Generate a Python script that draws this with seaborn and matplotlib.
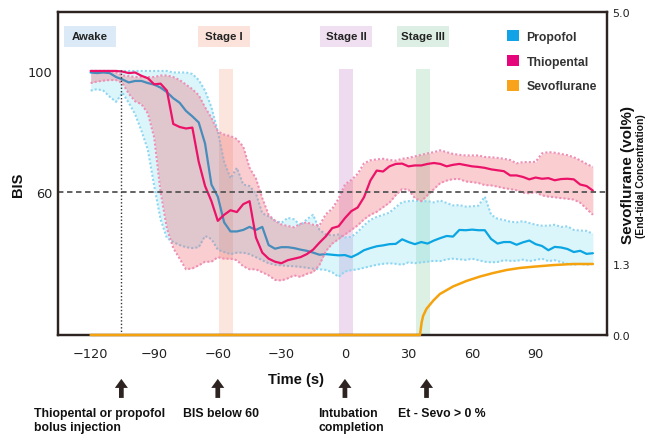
import matplotlib

matplotlib.use("Agg")
import matplotlib.pyplot as plt
import pandas as pd
import seaborn as sns
from matplotlib.patches import Patch, Rectangle

# time axis (s), read every 3 s from the figure
time_s = [
    -120, -117, -114, -111, -108, -105, -102, -99, -96, -93,
    -90, -87, -84, -81, -78, -75, -72, -69, -66, -63,
    -60, -57, -54, -51, -48, -45, -42, -39, -36, -33,
    -30, -27, -24, -21, -18, -15, -12, -9, -6, -3,
    0, 3, 6, 9, 12, 15, 18, 21, 24, 27,
    30, 33, 36, 39, 42, 45, 48, 51, 54, 57,
    60, 63, 66, 69, 72, 75, 78, 81, 84, 87,
    90, 93, 96, 99, 102, 105, 108, 111, 114, 117,
]

propofol_mean = [
    99.5, 99.3, 99.5, 99.3, 98.0, 97.2, 96.2, 96.7, 96.7, 96.0,
    95.5, 94.5, 93.0, 91.0, 89.5, 86.8, 85.0, 83.0, 76.0, 62.5,
    58.5, 50.0, 47.0, 47.0, 47.5, 48.5, 47.5, 48.5, 42.5, 41.3,
    41.8, 41.8, 41.5, 41.0, 40.6, 40.0, 39.3, 39.5, 39.3, 39.1,
    39.2, 38.5, 39.5, 40.8, 41.5, 42.1, 42.4, 42.8, 42.9, 44.4,
    43.5, 42.8, 43.5, 43.0, 44.0, 44.8, 45.5, 45.3, 47.5, 47.4,
    47.6, 47.4, 47.4, 44.5, 43.0, 43.5, 43.5, 42.6, 43.4, 44.0,
    42.8, 42.2, 40.8, 41.9, 41.7, 41.2, 40.2, 40.6, 39.6, 39.8,
]
propofol_upper = [
    100, 100, 100, 100, 100, 100, 100, 100, 100, 100,
    100, 100, 100, 99.5, 99.5, 99.5, 99.0, 97.0, 93.5, 88.0,
    80.0, 70.0, 64.5, 68.0, 62.5, 62.0, 59.5, 53.0, 52.0, 50.6,
    49.8, 51.5, 51.0, 49.0, 51.0, 52.5, 47.5, 46.0, 45.7, 46.0,
    45.0, 45.2, 46.8, 49.0, 50.8, 51.8, 52.5, 53.2, 55.0, 56.7,
    57.0, 57.2, 57.0, 57.0, 56.6, 57.2, 56.4, 55.6, 55.7, 55.2,
    55.3, 55.5, 58.5, 52.5, 51.2, 50.8, 50.2, 50.0, 50.4, 49.8,
    49.2, 48.9, 48.9, 49.2, 48.5, 48.7, 47.5, 47.3, 47.2, 46.2,
]
propofol_lower = [
    93.5, 94.0, 93.5, 91.5, 89.8, 92.8, 89.5, 85.7, 80.2, 74.0,
    62.0, 51.0, 44.8, 43.5, 42.5, 41.8, 41.5, 41.8, 45.5, 44.5,
    41.0, 40.2, 39.5, 40.0, 40.0, 39.5, 38.5, 37.5, 36.5, 36.0,
    35.8, 35.6, 35.5, 35.3, 35.0, 34.7, 34.5, 34.3, 33.5, 32.0,
    33.8, 34.2, 34.5, 35.0, 35.5, 36.0, 36.3, 36.5, 36.3, 36.0,
    36.8, 36.5, 36.8, 37.0, 37.3, 37.2, 37.8, 38.0, 37.8, 37.6,
    38.0, 37.5, 37.0, 36.8, 36.9, 37.5, 37.3, 37.3, 37.7, 37.2,
    37.6, 38.0, 37.2, 37.5, 36.9, 36.3, 36.0, 36.3, 36.0, 36.3,
]

thiopental_mean = [
    100, 100, 100, 100, 100, 99.8, 99.3, 99.5, 98.4, 97.6,
    95.6, 95.8, 93.5, 82.5, 81.5, 81.0, 81.3, 70.0, 62.0, 57.0,
    50.5, 52.5, 54.0, 53.4, 56.0, 57.0, 45.0, 40.0, 38.0, 37.0,
    36.5, 37.5, 38.0, 38.5, 39.5, 41.0, 43.3, 45.4, 48.1, 48.7,
    51.4, 53.7, 54.9, 58.3, 63.8, 67.1, 66.8, 68.5, 69.3, 69.4,
    68.5, 68.8, 68.8, 69.3, 69.6, 69.3, 68.5, 69.0, 69.3, 68.9,
    68.5, 68.3, 68.0, 67.5, 67.2, 66.9, 65.5, 65.5, 65.0, 64.2,
    64.8, 64.4, 64.6, 63.9, 64.3, 64.4, 64.2, 62.5, 62.0, 60.5,
]
thiopental_upper = [
    100, 100, 100, 100, 99.5, 98.5, 98.3, 98.0, 98.0, 98.0,
    98.0, 98.5, 98.5, 98.0, 97.0, 95.5, 94.0, 92.0, 88.0, 84.5,
    80.0, 79.0, 78.5, 77.5, 75.0, 68.0, 64.5, 58.0, 52.5, 50.5,
    49.3, 48.8, 48.4, 49.5, 50.0, 49.2, 49.0, 52.7, 54.5, 57.8,
    62.5, 64.0, 66.0, 69.5, 70.5, 70.8, 71.0, 70.6, 70.4, 71.0,
    71.3, 71.8, 72.3, 72.8, 73.2, 73.8, 73.2, 72.6, 72.3, 72.1,
    72.1, 72.1, 71.6, 71.5, 71.3, 71.0, 70.6, 69.5, 69.9, 69.9,
    70.0, 72.8, 73.2, 73.0, 72.6, 72.2, 71.5, 70.5, 69.3, 68.3,
]
thiopental_lower = [
    96.0, 96.5, 96.8, 97.0, 97.0, 96.0, 92.5, 90.0, 89.0, 86.0,
    78.0, 60.0, 48.0, 41.5, 38.0, 34.5, 34.8, 35.8, 37.0, 37.0,
    38.5, 38.0, 38.0, 37.5, 35.5, 34.5, 34.5, 33.5, 32.5, 31.0,
    30.8, 31.5, 32.5, 32.0, 33.0, 33.6, 36.0, 40.5, 43.0, 44.5,
    46.0, 47.5, 49.0, 51.0, 52.5, 53.5, 55.0, 56.5, 59.0, 61.0,
    60.8, 58.0, 57.0, 59.0, 61.0, 63.0, 63.8, 64.3, 64.3, 63.5,
    63.3, 63.0, 62.3, 62.2, 61.8, 61.3, 61.0, 60.6, 59.8, 59.6,
    60.0, 58.9, 58.5, 58.3, 58.0, 57.8, 57.5, 56.5, 54.5, 52.5,
]

# end-tidal sevoflurane (vol%), right axis
sevo_time = [-120, 35.4, 36.2, 36.9, 38.5, 41.7, 44.8, 51.1, 57.4, 63.7,
             70.0, 76.3, 82.5, 88.8, 98.3, 107.7, 117.0]
sevo_vol = [0.0, 0.0, 0.23, 0.35, 0.48, 0.63, 0.75, 0.89, 0.99, 1.07,
            1.135, 1.19, 1.227, 1.25, 1.28, 1.30, 1.30]

x_ticks = [-120, -90, -60, -30, 0, 30, 60, 90]
bis_ticks = [60, 100]

stage_names = ["Awake", "Stage I", "Stage II", "Stage III"]
stage_label_x = [-120.5, -57.0, 0.5, 37.0]
stage_box_colors = ["#dbeaf6", "#fbe2da", "#efdff0", "#ddefe5"]
stage_spans = [(-59.2, -52.6), (-2.8, 3.6), (33.6, 40.0)]
stage_band_colors = ["#f4a990", "#c88ad0", "#8cd0a8"]

event_times = [-105.5, -60.0, 0.0, 38.5]
event_labels = [
    "Thiopental or propofol\nbolus injection",
    "BIS below 60",
    "Intubation\ncompletion",
    "Et - Sevo > 0 %",
]
event_text_x = [-146.7, -76.4, -12.7, 25.0]

PROPOFOL = "#0aa5e2"
THIO = "#eb1268"
SEVO = "#f5a20f"
DARK = "#2d2422"
TEXT_FONT = "Liberation Sans"

sns.set_theme(style="white")
plt.rcParams["font.family"] = ["DejaVu Sans"]

df = pd.DataFrame({
    "time": time_s,
    "propofol": propofol_mean,
    "thiopental": thiopental_mean,
})

fig = plt.figure(figsize=(6.48, 4.35), dpi=100)
ax = fig.add_axes([0.0895, 0.2276, 0.847, 0.742])
ax.set_xlim(-135.4, 123.6)
ax.set_ylim(12.8, 119.4)

# stage bands
for (x0, x1), color in zip(stage_spans, stage_band_colors):
    ax.fill_between([x0, x1], 12.8, 100.7, color=color, alpha=0.3,
                    linewidth=0, zorder=1)

dotted = (0, (1, 1))

# propofol band + mean
ax.fill_between(time_s, propofol_lower, propofol_upper, color="#4fd3ee",
                alpha=0.2, linewidth=0, zorder=2)
for edge in (propofol_upper, propofol_lower):
    ax.plot(time_s, edge, color="#8fd6f2", lw=1.5, ls=dotted, zorder=2.1)
sns.lineplot(data=df, x="time", y="propofol", color=PROPOFOL, lw=1.6,
             ax=ax, zorder=2.2)

# thiopental band + mean
ax.fill_between(time_s, thiopental_lower, thiopental_upper, color="#ee4a55",
                alpha=0.27, linewidth=0, zorder=2.3)
for edge in (thiopental_upper, thiopental_lower):
    ax.plot(time_s, edge, color="#ef8fb5", lw=1.5, ls=dotted, zorder=2.4)
sns.lineplot(data=df, x="time", y="thiopental", color=THIO, lw=1.6,
             ax=ax, zorder=2.5)

# reference lines
ax.axhline(60, color="#555555", lw=1.3, ls=(0, (3, 2)), zorder=2.6)
ax.vlines(event_times[0], 12.8, 100.3, color="#333333", lw=1.0,
          ls=(0, (1, 1.5)), zorder=2.6)

# stage label boxes
box_w, box_h, box_y = 24.5, 6.9, 111.4
for name, cx, color in zip(stage_names, stage_label_x, stage_box_colors):
    ax.add_patch(Rectangle((cx - box_w / 2, box_y - box_h / 2), box_w, box_h,
                           facecolor=color, edgecolor="none", zorder=3))
    ax.text(cx, box_y, name, ha="center", va="center", fontsize=8.2,
            fontweight="bold", family=TEXT_FONT, color="#222222", zorder=4)

ax.set_xticks(x_ticks)
ax.set_xticklabels([f"\u2212{abs(v)}" if v < 0 else str(v) for v in x_ticks])
ax.set_yticks(bis_ticks)
ax.tick_params(axis="x", length=0, pad=9, labelsize=9.3, colors="#222222")
ax.tick_params(axis="y", length=0, pad=4, labelsize=9.3, colors="#222222")
ax.set_xlabel("")
ax.set_ylabel("")
for spine in ax.spines.values():
    spine.set_color(DARK)
    spine.set_linewidth(1.6)

ax.text(0.4335, -0.136, "Time (s)", transform=ax.transAxes, ha="center",
        va="center", fontsize=10.5, fontweight="bold", family=TEXT_FONT,
        color="#111111")
ax.text(-0.0729, 0.467, "BIS", transform=ax.transAxes, ha="center",
        va="center", rotation=90, fontsize=10.5, fontweight="bold",
        family=TEXT_FONT, color="#111111")
ax.text(1.038, 0.5, "Sevoflurane (vol%)", transform=ax.transAxes,
        ha="center", va="center", rotation=90, fontsize=11,
        fontweight="bold", family=TEXT_FONT, color="#111111")
ax.text(1.063, 0.495, "(End-tidal Concentration)", transform=ax.transAxes,
        ha="center", va="center", rotation=90, fontsize=7.4,
        fontweight="bold", family=TEXT_FONT, color="#111111")

# sevoflurane on the right axis
ax2 = ax.twinx()
ax2.set_ylim(0, 5.91)
ax2.plot(sevo_time, sevo_vol, color=SEVO, lw=1.8, clip_on=False, zorder=5)
ax2.set_yticks([0, 1.3, 5.91])
ax2.set_yticklabels(["0.0", "1.3", "5.0"])
ax2.tick_params(axis="y", length=0, pad=4, labelsize=8, colors="#222222")
ax2.grid(False)
for spine in ax2.spines.values():
    spine.set_color(DARK)
    spine.set_linewidth(1.6)

# event arrows and captions
for t, label, tx in zip(event_times, event_labels, event_text_x):
    ax.annotate("", xy=(t, -0.136), xytext=(t, -0.195),
                xycoords=("data", "axes fraction"),
                textcoords=("data", "axes fraction"),
                arrowprops=dict(facecolor=DARK, edgecolor="none", width=3.4,
                                headwidth=9.4, headlength=6.5, shrink=0))
    ax.text(tx, -0.222, label, transform=ax.get_xaxis_transform(),
            ha="left", va="top", fontsize=8.8, fontweight="bold",
            family=TEXT_FONT, color="#111111", linespacing=1.25,
            clip_on=False)

handles = [
    Patch(facecolor="#11a3e6", edgecolor="none", label="Propofol"),
    Patch(facecolor="#e6067c", edgecolor="none", label="Thiopental"),
    Patch(facecolor="#f9a21b", edgecolor="none", label="Sevoflurane"),
]
ax2.legend(handles=handles, loc="upper left", bbox_to_anchor=(0.818, 0.945),
           frameon=False, handlelength=1.0, handleheight=1.0,
           handletextpad=0.6, labelspacing=1.0, borderpad=0,
           borderaxespad=0,
           prop=dict(family=TEXT_FONT, weight="bold", size=8.8),
           labelcolor="#333333")

fig.savefig("out.png", dpi=100)
